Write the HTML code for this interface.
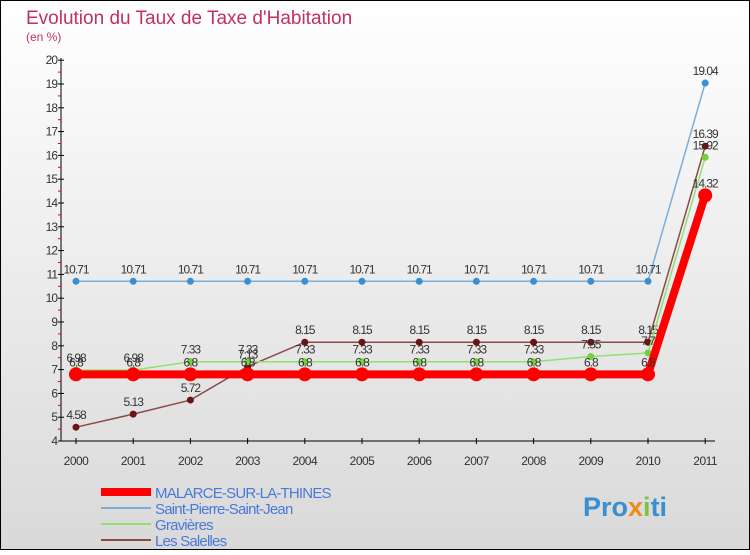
<!DOCTYPE html>
<html><head><meta charset="utf-8"><style>
body{margin:0}
svg text{font-family:"Liberation Sans",sans-serif}
</style></head><body>
<svg id="c" width="750" height="550" viewBox="0 0 750 550" xmlns="http://www.w3.org/2000/svg">
<defs><linearGradient id="bg" x1="0" y1="0" x2="0" y2="1"><stop offset="0" stop-color="#ffffff"/><stop offset="1" stop-color="#d9d9d9"/></linearGradient></defs>
<rect x="0.5" y="0.5" width="749" height="549" fill="url(#bg)" stroke="#000"/>
<text x="26" y="24" font-size="19" fill="#c2305f">Evolution du Taux de Taxe d'Habitation</text>
<text x="26" y="41" font-size="12" fill="#c2305f">(en %)</text>
<g id="axes"></g>
<g id="series"></g>
<g id="legend"></g>
<text x="583" y="516" font-size="27" font-weight="bold" fill="#3a8fd0">Pro<tspan fill="#f08a1c">x</tspan><tspan fill="#7dc242">i</tspan>ti</text>
</svg>
<script>
const years=[2000,2001,2002,2003,2004,2005,2006,2007,2008,2009,2010,2011];
const yTicks=[4,5,6,7,8,9,10,11,12,13,14,15,16,17,18,19,20];
const malarce=[6.8,6.8,6.8,6.8,6.8,6.8,6.8,6.8,6.8,6.8,6.8,14.32];
const stPierre=[10.71,10.71,10.71,10.71,10.71,10.71,10.71,10.71,10.71,10.71,10.71,19.04];
const gravieres=[6.98,6.98,7.33,7.33,7.33,7.33,7.33,7.33,7.33,7.55,7.7,15.92];
const salelles=[4.58,5.13,5.72,7.13,8.15,8.15,8.15,8.15,8.15,8.15,8.15,16.39];
const seriesNames=["MALARCE-SUR-LA-THINES","Saint-Pierre-Saint-Jean","Gravières","Les Salelles"];
const NS="http://www.w3.org/2000/svg";
const X=i=>76+i*57.2;
const Y=v=>441-(v-4)*23.8;
function mk(tag,attrs,parent,txt){const e=document.createElementNS(NS,tag);for(const k in attrs)e.setAttribute(k,attrs[k]);if(txt!==undefined)e.textContent=txt;parent.appendChild(e);return e;}
const ax=document.getElementById('axes');
let e=mk('line',{x1:61,y1:58,x2:61,y2:441,stroke:'#000'},ax);


e=mk('line',{x1:61,y1:441,x2:715,y2:441,stroke:'#000'},ax);


yTicks.forEach(v=>{
 mk('line',{x1:58,y1:Y(v),x2:64,y2:Y(v),stroke:'#000'},ax);
 if(v<20) mk('line',{x1:58,y1:Y(v+0.5),x2:61,y2:Y(v+0.5),stroke:'#e00'},ax);
 const t=mk('text',{x:57,y:Y(v)+4,'font-size':12,'text-anchor':'end',fill:'#333','letter-spacing':'-1'},ax,String(v));
 
 
});
years.forEach((yr,i)=>{
 mk('line',{x1:X(i),y1:438,x2:X(i),y2:444,stroke:'#000'},ax);
 const t=mk('text',{x:X(i),y:465,'font-size':12,'text-anchor':'middle',fill:'#333','letter-spacing':'-0.5'},ax,String(yr));
 
 
});
const sg=document.getElementById('series');
function draw(vals,color,width,r,dot,name){
 const g=mk('g',{},sg);
 
 
 mk('polyline',{points:vals.map((v,i)=>X(i)+','+Y(v)).join(' '),fill:'none',stroke:color,'stroke-width':width},g);
 vals.forEach((v,i)=>{
  const c=mk('circle',{cx:X(i),cy:Y(v),r:r,fill:dot},g);
  
  
  const t=mk('text',{x:X(i),y:Y(v)-8,'font-size':12,'text-anchor':'middle',fill:'#333','letter-spacing':'-1'},g,String(v));
  
  
 });
}
draw(stPierre,'#7aaed8',1.5,3.5,'#3a8fd0','series-saint-pierre');
draw(salelles,'#8b4a4a',1.5,3.5,'#6b1414','series-les-salelles');
draw(gravieres,'#8fe070',1.5,3.5,'#6fd43a','series-gravieres');
draw(malarce,'#f00',8,7,'#f00','series-malarce');
const lg=document.getElementById('legend');
const lc=['#f00','#7aaed8','#8fe070','#8b4a4a'],lw=[8,2,2,2];
seriesNames.forEach((n,i)=>{
 const y=492+i*16;
 const g=mk('g',{},lg);
 
 
 mk('line',{x1:101,y1:y,x2:151,y2:y,stroke:lc[i],'stroke-width':lw[i]},g);
 mk('text',{x:155,y:y+6,'font-size':15,fill:'#4a7ad8','letter-spacing':'-0.8'},g,n);
});
</script>
</body></html>
